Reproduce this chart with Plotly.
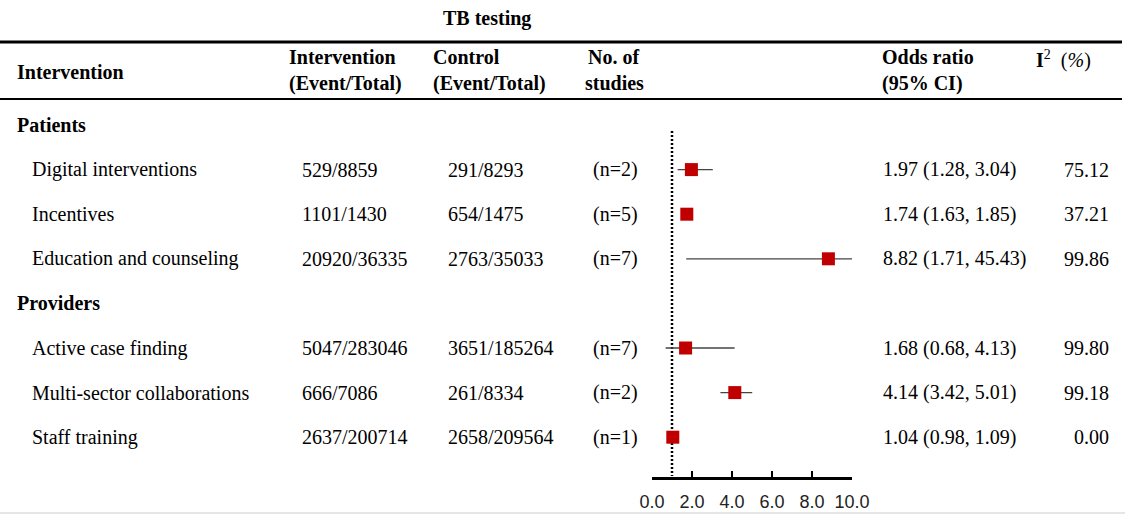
import plotly.graph_objects as go

# ---------------- data ----------------
rows = ["Patients", "Digital interventions", "Incentives", "Education and counseling",
        "Providers", "Active case finding", "Multi-sector collaborations", "Staff training"]
is_group = [True, False, False, False, True, False, False, False]
interv = ["", "529/8859", "1101/1430", "20920/36335", "", "5047/283046", "666/7086", "2637/200714"]
control = ["", "291/8293", "654/1475", "2763/35033", "", "3651/185264", "261/8334", "2658/209564"]
n_studies = [None, 2, 5, 7, None, 7, 2, 1]
odds = [None, 1.97, 1.74, 8.82, None, 1.68, 4.14, 1.04]
ci_low = [None, 1.28, 1.63, 1.71, None, 0.68, 3.42, 0.98]
ci_high = [None, 3.04, 1.85, 45.43, None, 4.13, 5.01, 1.09]
i2 = [None, 75.12, 37.21, 99.86, None, 99.80, 99.18, 0.00]
x_ticks = [0, 2, 4, 6, 8, 10]

# ---------------- layout constants ----------------
W, H = 1125, 516
ROW0_PX, ROW_STEP = 125, 44.6
SERIF = "Liberation Serif"
FS = 20
RED = "#C00000"

def px_x(p):
    return p / W

def px_y(p):
    return 1 - p / H

fig = go.Figure()

# reference line at OR = 1
y_top_row = -(ROW0_PX - 131) / ROW_STEP
y_axis_row = (476 - ROW0_PX) / ROW_STEP
fig.add_trace(go.Scatter(
    x=[1, 1], y=[y_top_row, y_axis_row], mode="lines",
    line=dict(color="black", width=2.5, dash="2px,2px"),
    showlegend=False, hoverinfo="skip",
))

# forest plot markers with confidence intervals
idx = [i for i, v in enumerate(odds) if v is not None]
fig.add_trace(go.Scatter(
    x=[odds[i] for i in idx],
    y=[i for i in idx],
    mode="markers",
    marker=dict(symbol="square", size=13, color=RED, line=dict(width=0)),
    error_x=dict(type="data", symmetric=False,
                 array=[ci_high[i] - odds[i] for i in idx],
                 arrayminus=[odds[i] - ci_low[i] for i in idx],
                 width=0, thickness=1.3, color="#444444"),
    showlegend=False, hoverinfo="skip",
))

ann = []
def add_text(x, y, text, xanchor="left", yref="y", bold=False, size=FS):
    ann.append(dict(x=x, y=y, xref="paper", yref=yref, text=(f"<b>{text}</b>" if bold else text),
                    showarrow=False, xanchor=xanchor, yanchor="middle",
                    font=dict(family=SERIF, size=size, color="black")))

# header
add_text(px_x(487), px_y(19), "TB testing", xanchor="center", yref="paper", bold=True)
add_text(px_x(15), px_y(72), "Intervention", yref="paper", bold=True)
add_text(px_x(287), px_y(57), "Intervention", yref="paper", bold=True)
add_text(px_x(287), px_y(83), "(Event/Total)", yref="paper", bold=True)
add_text(px_x(431), px_y(57), "Control", yref="paper", bold=True)
add_text(px_x(431), px_y(83), "(Event/Total)", yref="paper", bold=True)
add_text(px_x(586), px_y(57), "No. of", yref="paper", bold=True)
add_text(px_x(583), px_y(83), "studies", yref="paper", bold=True)
add_text(px_x(880), px_y(57), "Odds ratio", yref="paper", bold=True)
add_text(px_x(880), px_y(83), "(95% CI)", yref="paper", bold=True)
add_text(px_x(1093), px_y(60), "<b>I</b><sup>2</sup>  (<i>%</i>)", xanchor="right", yref="paper")

# body rows
for i, name in enumerate(rows):
    if is_group[i]:
        add_text(px_x(15), i, name, bold=True)
        continue
    add_text(px_x(30), i, name)
    add_text(px_x(300), i, interv[i])
    add_text(px_x(446), i, control[i])
    add_text(px_x(591), i, f"(n={n_studies[i]})")
    add_text(px_x(881), i, f"{odds[i]:.2f} ({ci_low[i]:.2f}, {ci_high[i]:.2f})")
    add_text(px_x(1111), i, f"{i2[i]:.2f}", xanchor="right")

shapes = [
    dict(type="line", xref="paper", yref="paper", x0=0, x1=px_x(1122), y0=px_y(42), y1=px_y(42),
         line=dict(color="black", width=3)),
    dict(type="line", xref="paper", yref="paper", x0=0, x1=px_x(1122), y0=px_y(99), y1=px_y(99),
         line=dict(color="black", width=2)),
    dict(type="line", xref="paper", yref="paper", x0=0, x1=1, y0=px_y(513), y1=px_y(513),
         line=dict(color="#e6e6e6", width=2)),
]

fig.update_layout(
    width=W, height=H,
    margin=dict(l=0, r=0, t=0, b=0, pad=0, autoexpand=False),
    paper_bgcolor="white", plot_bgcolor="rgba(0,0,0,0)",
    annotations=ann, shapes=shapes,
    xaxis=dict(domain=[px_x(652), px_x(852)], range=[0, 10], tickvals=x_ticks,
               ticktext=[f"{v:.1f}" for v in x_ticks],
               anchor="free", position=px_y(477.5), showline=True, linecolor="black", linewidth=2.5,
               ticks="inside", ticklen=6, tickwidth=2, tickcolor="black",
               ticklabelstandoff=7,
               showgrid=False, zeroline=False, fixedrange=True, automargin=False,
               tickfont=dict(family="Liberation Sans", size=18, color="#222222")),
    yaxis=dict(domain=[0, 1], range=[(H - ROW0_PX) / ROW_STEP, -ROW0_PX / ROW_STEP],
               visible=False, showgrid=False, zeroline=False, fixedrange=True, automargin=False),
)

fig.write_html("out.html")
